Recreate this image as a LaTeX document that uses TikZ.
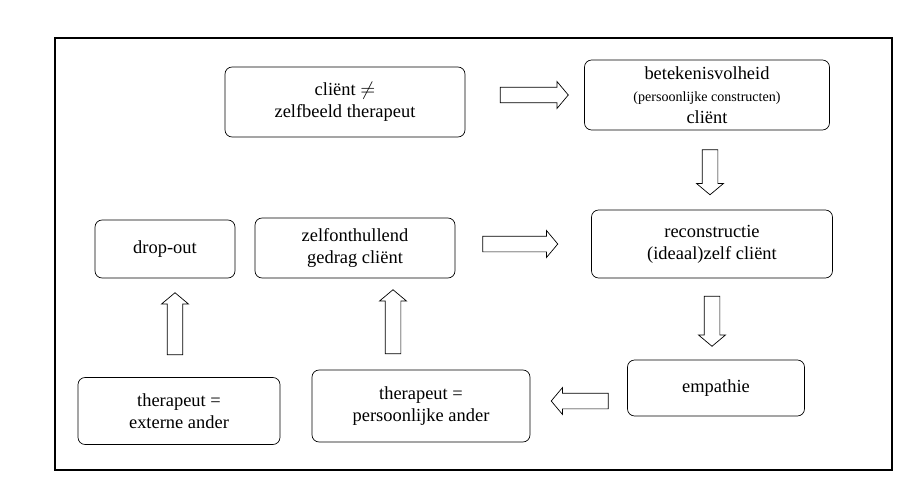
\documentclass[tikz,border=0pt]{standalone}
\usepackage{fontspec}
\setmainfont{Liberation Serif}
\usetikzlibrary{shapes.arrows,calc}

\tikzset{
  box/.style={draw, rounded corners=4pt, align=center, font=\fontsize{10.5}{12.5}\selectfont},
  blockarrow/.style={single arrow, draw, single arrow head extend=0.11cm,
    single arrow tip angle=100, inner sep=0.15cm, minimum height=#1},
}

\begin{document}
\begin{tikzpicture}[x=0.02cm, y=-0.02cm]
            \useasboundingbox (0,0) rectangle (920,490);
            \draw[line width=0.9pt] (55,38) rectangle (892,470);

            % boxes
            \node[box, minimum width=4.8cm, minimum height=1.4cm] (clnt) at (345,102) {cliënt $\neq$\\zelfbeeld therapeut};
            \node[box, minimum width=4.9cm, minimum height=1.4cm] (betek) at (707,95) {betekenisvolheid\\{\footnotesize(persoonlijke constructen)}\\cliënt};
            \node[box, minimum width=2.8cm, minimum height=1.16cm] (drop) at (165,249) {drop-out};
            \node[box, minimum width=4.0cm, minimum height=1.2cm] (zelf) at (355,248) {zelfonthullend\\gedrag\ cliënt};
            \node[box, minimum width=4.82cm, minimum height=1.36cm] (recon) at (712,244) {reconstructie\\(ideaal)zelf cliënt};
            \node[box, minimum width=3.54cm, minimum height=1.12cm] (emp) at (716,388) {empathie};
            \node[box, minimum width=4.04cm, minimum height=1.34cm] (ext) at (179,411) {therapeut =\\externe ander};
            \node[box, minimum width=4.36cm, minimum height=1.44cm] (pers) at (421,406) {therapeut =\\persoonlijke ander};

            % hollow arrows
            \node[blockarrow=1.36cm] (a1) at (531,95) {};
            \node[blockarrow=0.9cm, shape border rotate=270] (a2) at (710,169) {};
            \node[blockarrow=1.5cm] (a3) at (517,244) {};
            \node[blockarrow=1.0cm, shape border rotate=270] (a4) at (712,318) {};
            \node[blockarrow=1.14cm, shape border rotate=180] (a5) at (583,401) {};
            \node[blockarrow=1.28cm, shape border rotate=90] (a6) at (393,325) {};
            \node[blockarrow=1.24cm, shape border rotate=90] (a7) at (175,327) {};
\end{tikzpicture}
\end{document}
